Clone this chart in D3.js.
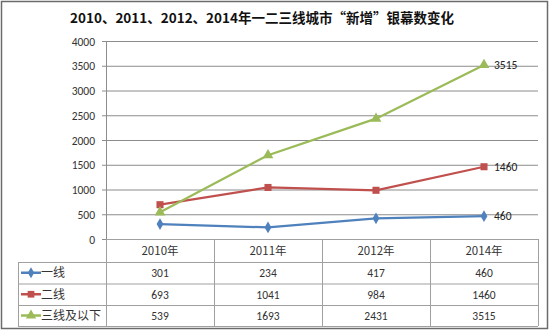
<!DOCTYPE html>
<html><head><meta charset="utf-8">
<script src="https://cdn.jsdelivr.net/npm/d3@7"></script>
<style>
html,body{margin:0;padding:0;background:#fff;}
svg{display:block;font-family:"Liberation Sans","Noto Sans CJK SC",sans-serif;}
</style></head>
<body><svg id="c" width="550" height="331"></svg>
<script>
const title = "2010、2011、2012、2014年一二三线城市“新增”银幕数变化";
const categories = ["2010年","2011年","2012年","2014年"];
const seriesNames = ["一线","二线","三线及以下"];
const tier1 = [301, 234, 417, 460];
const tier2 = [693, 1041, 984, 1460];
const tier3 = [539, 1693, 2431, 3515];
const yTicks = [0,500,1000,1500,2000,2500,3000,3500,4000];
const colors = ["#4F81BD","#C0504D","#9BBB59"];
const symbols = [d3.symbolDiamond, d3.symbolSquare, d3.symbolTriangle];
const symSizes = [40, 50, 50];

(function(){
const svg = d3.select("#c");
const cjk = '"Noto Sans CJK SC",sans-serif';
const num = "Carlito,'Liberation Sans',sans-serif";

svg.append("rect").attr("x",1.5).attr("y",1.5).attr("width",546).attr("height",327)
  .attr("fill","#fff").attr("stroke","#6b6b6b").attr("stroke-width",1.5);

svg.append("text").attr("x",262).attr("y",23).attr("text-anchor","middle")
  .attr("font-family",cjk).attr("font-weight","bold").attr("font-size",13.5)
  .attr("fill","#111").text(title);

const pl=106, pr=538, pt=41, pb=239;
const x = d3.scaleBand().domain(categories).range([pl,pr]);
const y = d3.scaleLinear().domain([0,4000]).range([pb,pt]);

svg.append("g").selectAll("line").data(yTicks).join("line")
  .attr("x1",pl-4).attr("x2",pr).attr("y1",d=>y(d)+0.5).attr("y2",d=>y(d)+0.5)
  .attr("stroke","#8c8c8c").attr("stroke-width",1);
svg.append("line").attr("x1",pl+0.5).attr("x2",pl+0.5).attr("y1",pt).attr("y2",pb)
  .attr("stroke","#8c8c8c");

const yAxis = d3.axisLeft(y).tickValues(yTicks).tickFormat(d3.format("d")).tickSize(0).tickPadding(11);
const ga = svg.append("g").attr("transform",`translate(${pl},0.5)`).call(yAxis);
ga.select(".domain").remove();
ga.selectAll("text").attr("font-size",11.5).attr("fill","#333").attr("font-family",num);

const rowY = [239, 262, 283.5, 305, 326];
const tableLeft = 18;
const tg = svg.append("g").attr("stroke","#a0a0a0").attr("stroke-width",1);
tg.append("line").attr("x1",pl).attr("x2",pr).attr("y1",rowY[0]+0.5).attr("y2",rowY[0]+0.5);
for (let i=1;i<rowY.length;i++){
  tg.append("line").attr("x1",tableLeft).attr("x2",pr).attr("y1",rowY[i]+0.5).attr("y2",rowY[i]+0.5);
}
const colEdges = categories.map(c=>x(c)).concat([pr]);
colEdges.forEach(cx=>{
  tg.append("line").attr("x1",cx+0.5).attr("x2",cx+0.5).attr("y1",rowY[0]).attr("y2",rowY[4]);
});
tg.append("line").attr("x1",tableLeft+0.5).attr("x2",tableLeft+0.5).attr("y1",rowY[1]).attr("y2",rowY[4]);

svg.append("g").selectAll("text").data(categories).join("text")
  .attr("x",d=>x(d)+x.bandwidth()/2).attr("y",(rowY[0]+rowY[1])/2+4.5)
  .attr("text-anchor","middle").attr("font-size",11.5).attr("fill","#333")
  .attr("font-family",cjk).text(d=>d);

const allSeries = [tier1,tier2,tier3];
allSeries.forEach((vals,si)=>{
  const cy = (rowY[si+1]+rowY[si+2])/2;
  svg.append("g").selectAll("text").data(vals).join("text")
    .attr("x",(d,i)=>x(categories[i])+x.bandwidth()/2).attr("y",cy+4.5)
    .attr("text-anchor","middle").attr("font-size",11.5).attr("fill","#333")
    .attr("font-family",num).text(d=>d);
  svg.append("line").attr("x1",tableLeft+3).attr("x2",tableLeft+23).attr("y1",cy).attr("y2",cy)
    .attr("stroke",colors[si]).attr("stroke-width",2.5);
  svg.append("path").attr("d",d3.symbol().type(symbols[si]).size(symSizes[si]*0.9)())
    .attr("transform",`translate(${tableLeft+13},${cy})`).attr("fill",colors[si]);
  svg.append("text").attr("x",tableLeft+23).attr("y",cy+4.5).attr("font-size",12)
    .attr("font-family",cjk).attr("fill","#333").text(seriesNames[si]);
});

const line = d3.line().x((d,i)=>x(categories[i])+x.bandwidth()/2).y(d=>y(d));
allSeries.forEach((vals,si)=>{
  svg.append("path").datum(vals).attr("d",line).attr("fill","none")
    .attr("stroke",colors[si]).attr("stroke-width",2.25);
  svg.append("g").selectAll("path").data(vals).join("path")
    .attr("d",d3.symbol().type(symbols[si]).size(symSizes[si]))
    .attr("transform",(d,i)=>`translate(${x(categories[i])+x.bandwidth()/2},${y(d)})`)
    .attr("fill",colors[si]);
  const last = vals[vals.length-1];
  svg.append("text").attr("x",x(categories[3])+x.bandwidth()/2+10).attr("y",y(last)+4)
    .attr("font-size",11.5).attr("fill","#222")
    .attr("font-family",num).text(last);
});
})();
</script></body></html>
